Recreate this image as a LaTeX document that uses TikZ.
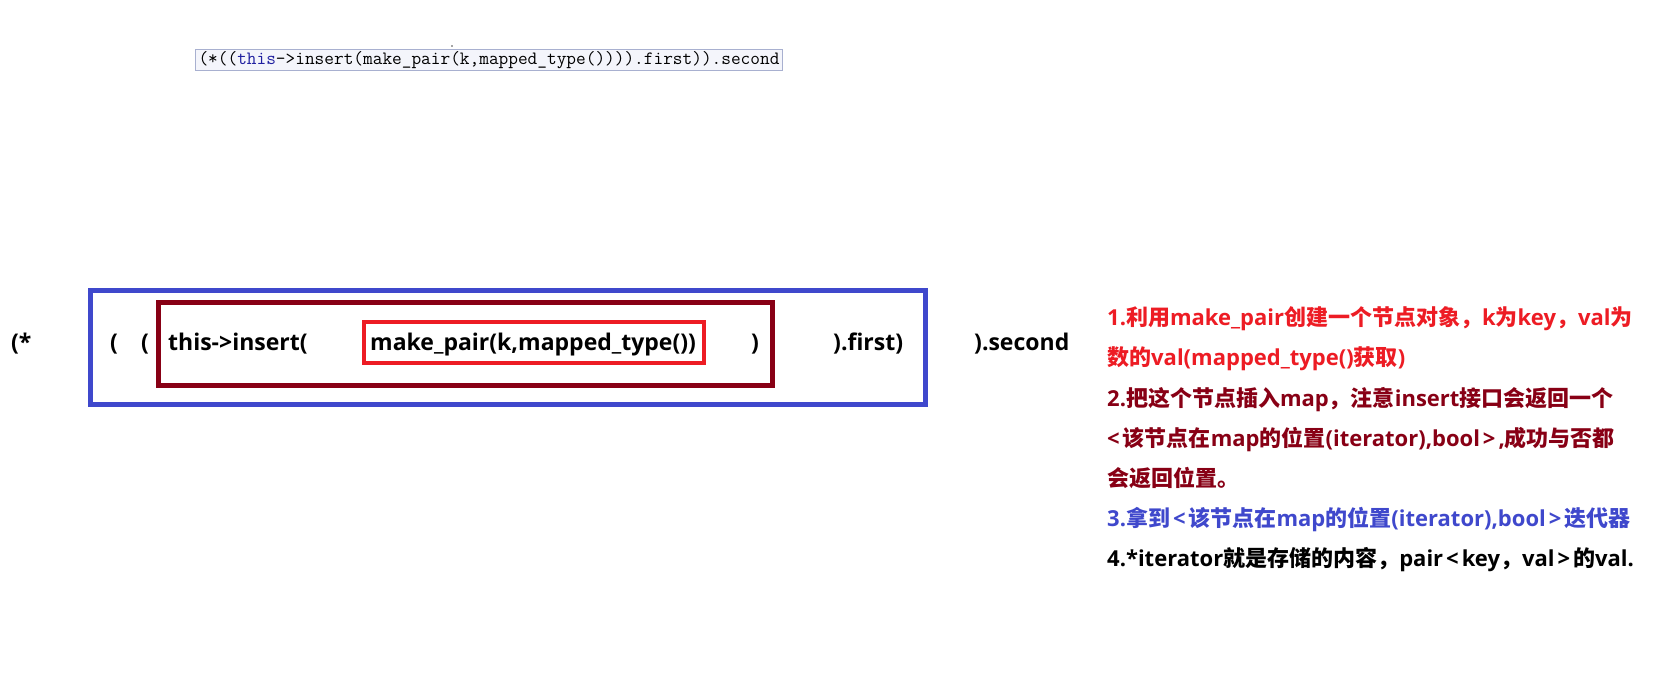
\documentclass[tikz,border=0pt]{standalone}
\usepackage{fontspec}
\setmainfont{Open Sans}
\newfontfamily\cjkf{Noto Sans CJK SC}
\newcommand\C[1]{{\cjkf #1}}
\newcommand\LT{\hspace{3pt}<\hspace{3pt}}
\newcommand\GT{\hspace{3pt}>\hspace{3pt}}
\definecolor{pblue}{HTML}{3F48CC}
\definecolor{pdred}{HTML}{880015}
\definecolor{pred}{HTML}{ED1C24}
\definecolor{thisblue}{HTML}{2020A0}
\definecolor{codeborder}{HTML}{A8B0D0}
\definecolor{codefill}{HTML}{F4F5FB}
\begin{document}
\begin{tikzpicture}[x=1pt,y=-1pt,
  main/.style={anchor=base west,inner sep=0pt,font=\fontsize{23}{27}\selectfont\bfseries,text=black},
  note/.style={anchor=base west,inner sep=0pt,font=\fontsize{22}{26}\selectfont\bfseries},
  codebox/.style={draw=codeborder,fill=codefill,line width=0.8pt,inner xsep=3pt,inner ysep=2pt,
    font=\fontsize{18.8}{20}\ttfamily}]
\useasboundingbox (0,0) rectangle (1675,684);
\fill[white] (0,0) rectangle (1675,684);
% top code line
\node[codebox] (code) at (489,60) {(*((\textcolor{thisblue}{this}->insert(make\_pair(k,mapped\_type()))).first)).second};
\fill[black!70] (452,46) circle (0.8);
% boxes
\draw[pblue,line width=5pt] (90.5,290.5) rectangle (925.5,404);
\draw[pdred,line width=5pt] (158.5,302.5) rectangle (772.5,385);
\draw[pred,line width=4pt] (364,322) rectangle (704,363);
% main row
\node[main] (t1) at (11,351) {(*};
\node[main] (t2) at (110,351) {(};
\node[main] (t3) at (141,351) {(};
\node[main] (t4) at (168,351) {this->insert(};
\node[main] (t5) at (370,351) {make\_pair(k,mapped\_type())};
\node[main] (t6) at (751,351) {)};
\node[main] (t7) at (833,351) {).first)};
\node[main] (t8) at (974,351) {).second};
% notes
\node[note,text=pred] (n1) at (1107,326) {1.\C{利用}make\_pair\C{创建一个节点对象，}k\C{为}key\C{，}val\C{为}};
\node[note,text=pred] (n1b) at (1107,366) {\C{数的}val(mapped\_type()\C{获取})};
\node[note,text=pdred] (n2) at (1107,406) {2.\C{把这个节点插入}map\C{，注意}insert\C{接口会返回一个}};
\node[note,text=pdred] (n2b) at (1107,446) {<\hspace{3pt}\C{该节点在}map\C{的位置}(iterator),bool\GT,\C{成功与否都}};
\node[note,text=pdred] (n2c) at (1107,486) {\C{会返回位置。}};
\node[note,text=pblue] (n3) at (1107,526) {3.\C{拿到}\LT\C{该节点在}map\C{的位置}(iterator),bool\GT\C{迭代器}};
\node[note,text=black] (n4) at (1107,566) {4.*iterator\C{就是存储的内容，}pair\LT key\C{，}val\GT\C{的}val.};
\end{tikzpicture}
\end{document}
